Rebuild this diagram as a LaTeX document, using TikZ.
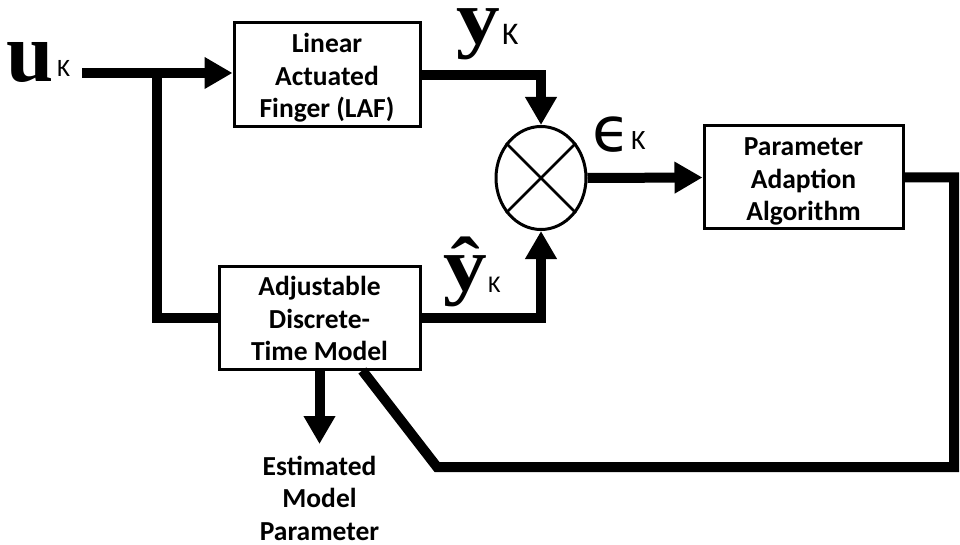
\documentclass[tikz,border=0pt]{standalone}
\usepackage{fontspec}
\newfontfamily\calfont{Carlito}
\newfontfamily\serfont{Liberation Serif}
\newfontfamily\djfont{DejaVu Sans}
\usetikzlibrary{arrows.meta,shapes.geometric,calc}
\begin{document}
\begin{tikzpicture}[x=1pt,y=-1pt,
  blk/.style={draw, line width=3pt, inner sep=0pt},
  txt/.style={inner sep=0pt, align=center,
    font=\calfont\bfseries\fontsize{27.5}{32.5}\selectfont},
  conn/.style={line width=10pt},
  tip/.style={-{Triangle[length=28pt,width=30pt]}},
  lbl/.style={anchor=base west, inner sep=0pt},
  bigl/.style={font=\serfont\bfseries\fontsize{#1}{#1}\selectfont},
  subk/.style={font=\calfont\fontsize{#1}{#1}\selectfont}]
\useasboundingbox (0,0) rectangle (960,545);
% blocks
\node[blk, minimum width=186pt, minimum height=104pt] (laf) at (327,75) {};
\node[txt] (laft) at (327,78) {Linear\\Actuated\\Finger (LAF)};
\node[blk, minimum width=201pt, minimum height=103pt] (adj) at (319.5,317.5) {};
\node[txt] (adjt) at (319.5,318.5) {Adjustable\\Discrete-\\Time Model};
\node[blk, minimum width=199pt, minimum height=103pt] (paa) at (803.5,177.5) {};
\node[txt] (paat) at (803.5,181.5) {Parameter\\Adaption\\Algorithm};
\node[ellipse, draw, line width=3pt, minimum width=90pt, minimum height=103pt, inner sep=0pt] (sum) at (541,178) {};
\draw[line width=2.5pt] (sum.45) -- (sum.225) (sum.135) -- (sum.315);
\node[txt, outer sep=12pt, anchor=north] (est) at (319.5,444) {Estimated\\Model\\Parameter};
% labels
\node[lbl, bigl=85, text height=0.5em] (u) at (6,82) {u};
\node[lbl, subk=25] (uk) at (57,77) {K};
\node[lbl, bigl=76, text height=0.5em] (y) at (456,44) {\scalebox{1.15}[1]{y}};
\node[lbl, subk=31.5] (yk) at (502,45) {K};
\node[lbl, bigl=76] (yh) at (443,290) {\scalebox{1.15}[1]{\^{y}}};
\node[lbl, subk=24] (yhk) at (488,292) {K};
\node[lbl, font=\djfont\fontsize{62}{62}\selectfont] (eps) at (592,152) {ϵ};
\node[lbl, subk=28] (ek) at (631,150) {K};
% connectors
\coordinate (uin) at (82,73);
\coordinate (br) at (157,73);
\coordinate (fr) at (954,467);
\coordinate (fl) at (437,467);
\draw[conn,tip] (uin) -- (uin -| laf.west);
\draw[conn] (br) |- (adj.west);
\draw[conn,tip] (laf.east) -| (sum.north);
\draw[conn,tip] (adj.east) -| (sum.south);
\draw[conn,tip] (sum.east) -- (paa.west);
\draw[conn] (paa.east) -| (fr) -- (fl) -- ($(adj.south west)!0.71!(adj.south east)$);
\draw[conn,tip] (adj.south) -- (est.north);
\end{tikzpicture}
\end{document}
